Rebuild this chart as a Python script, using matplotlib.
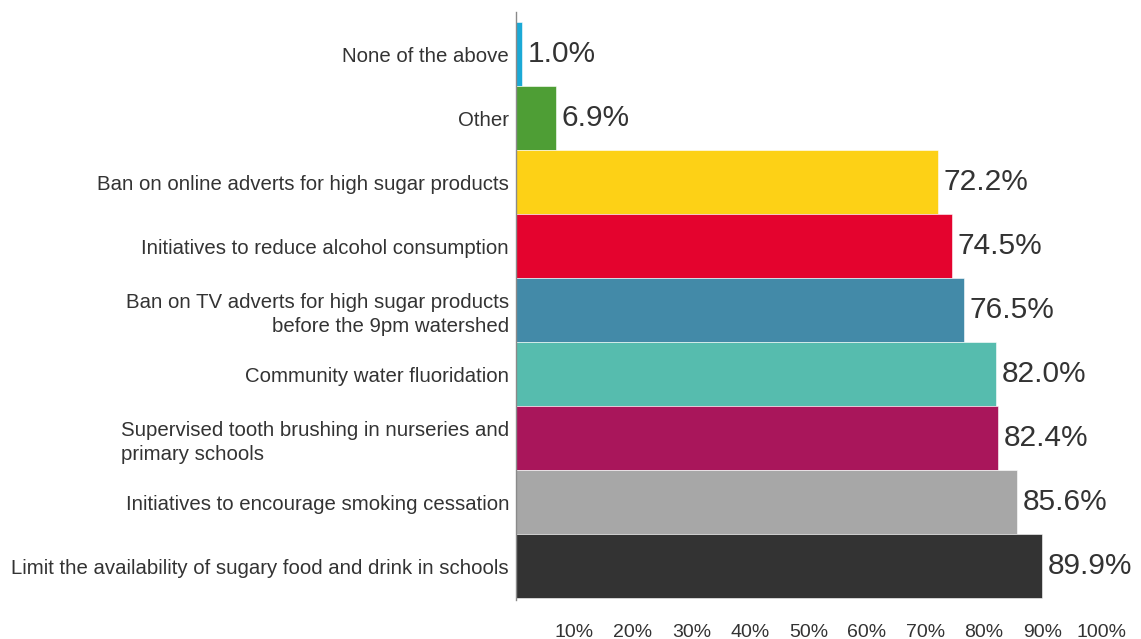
import matplotlib.pyplot as plt

plt.rcParams['font.family'] = ['Liberation Sans', 'DejaVu Sans']

# Measures, listed top to bottom as shown
measures = [
    "None of the above",
    "Other",
    "Ban on online adverts for high sugar products",
    "Initiatives to reduce alcohol consumption",
    "Ban on TV adverts for high sugar products\nbefore the 9pm watershed",
    "Community water fluoridation",
    "Supervised tooth brushing in nurseries and\nprimary schools",
    "Initiatives to encourage smoking cessation",
    "Limit the availability of sugary food and drink in schools",
]
support = [1.0, 6.9, 72.2, 74.5, 76.5, 82.0, 82.4, 85.6, 89.9]
colors = ['#1BA9D6', '#4E9E35', '#FDD116', '#E4032E', '#438AA8',
          '#56BCAE', '#A9165B', '#A7A7A7', '#333333']
ticks = [10, 20, 30, 40, 50, 60, 70, 80, 90, 100]

text_col = '#333333'

fig = plt.figure(figsize=(11.41, 6.39), dpi=100)
x0, x100 = 516, 1101
ax = fig.add_axes([x0 / 1141, 39 / 639, (x100 - x0) / 1141, (600 - 12) / 639])

n = len(measures)
ypos = list(range(n))
ax.barh(ypos, support, height=1.0, color=colors, edgecolor='white', linewidth=0.4)

for y, v in zip(ypos, support):
    ax.annotate(f"{v:.1f}%", (v, y), xytext=(4, 0), textcoords='offset points',
                va='center', ha='left', fontsize=21.5, color=text_col)

ax.set_xlim(0, 100)
ax.set_ylim(n - 0.5 + 2 / 64, -0.5 - 10 / 64)

ax.set_yticks(ypos)
ax.set_yticklabels(measures, fontsize=14.7, color=text_col, linespacing=1.35)
for lbl, name in zip(ax.get_yticklabels(), measures):
    if name.startswith("Supervised"):
        lbl.set_multialignment('left')
    else:
        lbl.set_multialignment('right')

ax.set_xticks(ticks)
ax.set_xticklabels([f"{t}%" for t in ticks], fontsize=14, color=text_col)
ax.tick_params(axis='x', length=0, pad=17)
ax.tick_params(axis='y', length=0, pad=5)

for side in ['top', 'right', 'bottom']:
    ax.spines[side].set_visible(False)
ax.spines['left'].set_color('#8a8a8a')
ax.spines['left'].set_linewidth(1.0)

fig.savefig('out.png', dpi=100)
